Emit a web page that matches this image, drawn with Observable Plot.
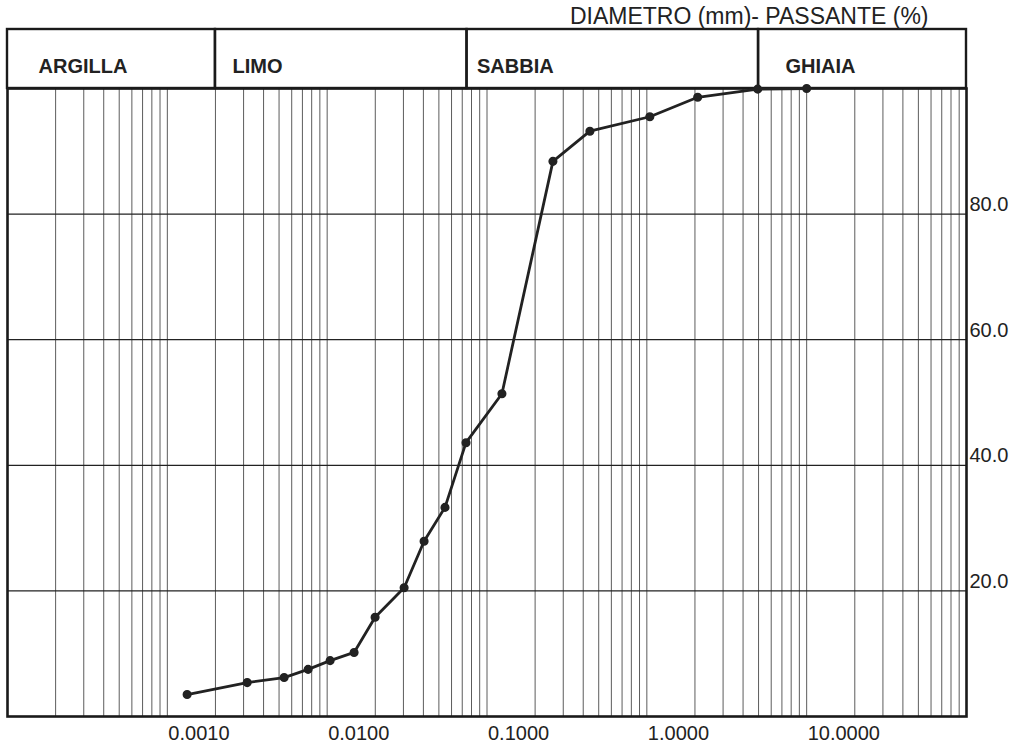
<!DOCTYPE html>
<html>
<head>
<meta charset="utf-8">
<script src="https://cdn.jsdelivr.net/npm/d3@7"></script>
<script src="https://cdn.jsdelivr.net/npm/@observablehq/plot@0.6"></script>
<style>
  html, body { margin: 0; padding: 0; background: #fff; }
  #chart { width: 1011px; height: 744px; }
</style>
</head>
<body>
<div id="chart"></div>
<script>
// --- data ---
const diameter = [0.00133, 0.00316, 0.00538, 0.0076, 0.01044, 0.01474, 0.01995, 0.0303, 0.0404, 0.0546, 0.0739, 0.124, 0.2585, 0.4403, 1.044, 2.08, 4.94, 10.0];
const passing  = [3.5, 5.4, 6.2, 7.5, 8.9, 10.2, 15.8, 20.5, 27.9, 33.3, 43.6, 51.4, 88.4, 93.2, 95.5, 98.6, 99.9, 100];
const categories = ["ARGILLA", "LIMO", "SABBIA", "GHIAIA"];
const categoryBounds = [0.0001, 0.002, 0.075, 5, 100];
const xTickValues = [0.001, 0.01, 0.1, 1, 10];
const xTickLabels = ["0.0010", "0.0100", "0.1000", "1.0000", "10.0000"];
const yTickValues = [20, 40, 60, 80];
const yTickLabels = ["20.0", "40.0", "60.0", "80.0"];
const title = "DIAMETRO (mm)- PASSANTE (%)";

// --- derived tables ---
const points = diameter.map((d, i) => ({d, p: passing[i]}));
const bands = categories.map((name, i) => ({name, x1: categoryBounds[i], x2: categoryBounds[i + 1]}));

// log grid lines (2..10 within each decade)
const gridX = [];
for (let e = -4; e <= 1; e++) {
  for (let k = 2; k <= 10; k++) gridX.push(k * Math.pow(10, e));
}

const W = 1011, H = 744;
const mL = 7, mR = 45, mT = 88, mB = 28;
const headerTop = 29; // px
const pxPerUnit = (H - mT - mB) / 100;
const headerY2 = 100 + (mT - headerTop) / pxPerUnit;
const headerTextY = 100 + (mT - 72) / pxPerUnit;
const labelPad = [31, 17, 10, 27]; // px from left boundary
const pxPerDecade = (W - mL - mR) / 6;
const labelX = bands.map((b, i) => b.x1 * Math.pow(10, labelPad[i] / pxPerDecade));

const font = "'Liberation Sans', Arial, Helvetica, sans-serif";

const chart = Plot.plot({
  width: W,
  height: H,
  marginLeft: mL,
  marginRight: mR,
  marginTop: mT,
  marginBottom: mB,
  style: {fontFamily: font, background: "#fff", color: "#222"},
  x: {type: "log", domain: [0.0001, 100], axis: null},
  y: {domain: [0, 100], axis: null},
  marks: [
    Plot.ruleX(gridX, {y1: 0, y2: 100, stroke: "#4a4a4a", strokeWidth: 0.9}),
    Plot.ruleY(yTickValues, {stroke: "#222", strokeWidth: 1.2}),
    Plot.frame({stroke: "#1a1a1a", strokeWidth: 2.6}),
    Plot.rect(bands, {x1: "x1", x2: "x2", y1: 100, y2: headerY2, fill: "none", stroke: "#1a1a1a", strokeWidth: 2.4}),
    Plot.text(bands, {x: (d, i) => labelX[i], y: headerTextY, text: "name", textAnchor: "start", lineAnchor: "bottom", fontSize: 20, fontWeight: "bold", fill: "#222"}),
    Plot.text(xTickValues, {x: d => d, y: 0, text: (d, i) => xTickLabels[i], textAnchor: "start", lineAnchor: "bottom", dx: 1, dy: 23, fontSize: 20, fill: "#222"}),
    Plot.text(yTickValues, {x: 100, y: d => d, text: (d, i) => yTickLabels[i], textAnchor: "start", lineAnchor: "bottom", dx: 3, dy: -3, fontSize: 20, fill: "#222"}),
    Plot.text([title], {frameAnchor: "top-right", text: d => d, textAnchor: "end", lineAnchor: "bottom", dx: -38, dy: -65, fontSize: 23, fill: "#222"}),
    Plot.line(points, {x: "d", y: "p", stroke: "#222", strokeWidth: 2.8}),
    Plot.dot(points, {x: "d", y: "p", r: 3.8, fill: "#222", stroke: "#222"})
  ]
});
document.getElementById("chart").appendChild(chart);
</script>
</body>
</html>
